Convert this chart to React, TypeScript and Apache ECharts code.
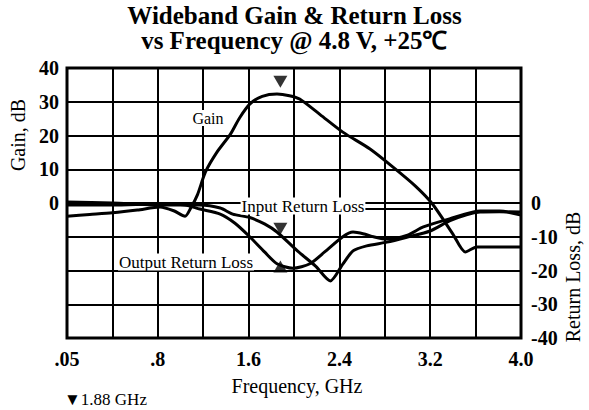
import React, { useEffect, useRef } from 'react';
import * as echarts from 'echarts';

// Frequency (GHz, axis position) / dB pairs
const gainData: [number, number][] = [
  [0, -3.9], [0.2, -3.4], [0.4, -2.9], [0.62, -2.1], [0.82, -1.2], [0.94, -2.3], [1.04, -3.9],
  [1.09, -1.5], [1.15, 2.5], [1.22, 9.2], [1.32, 15], [1.44, 20.4], [1.52, 25.2], [1.61, 29.3],
  [1.72, 31.6], [1.85, 32.3], [1.96, 31.8], [2.05, 30.8], [2.23, 26.2], [2.43, 21], [2.67, 16],
  [2.87, 10.7], [3.07, 5], [3.22, -0.3], [3.4, -9.2], [3.51, -14.5], [3.61, -13], [4.0, -13],
];

const inputRLData: [number, number][] = [
  [0, 0.3], [0.4, 0], [0.82, -0.6], [1.17, -0.6], [1.35, -1.5], [1.46, -3.3], [1.61, -4.3],
  [1.74, -6.2], [1.85, -8.6], [2.03, -14.2], [2.19, -18.7], [2.32, -23.1], [2.43, -18.1],
  [2.52, -14.2], [2.64, -12.7], [2.82, -11.6], [3.0, -10.1], [3.2, -8.3], [3.37, -5.3],
  [3.52, -3.5], [3.64, -2.7], [3.81, -2.6], [4.0, -2.7],
];

const outputRLData: [number, number][] = [
  [0, -0.6], [0.4, -0.6], [0.82, -0.3], [1.04, -0.6], [1.17, -1.8], [1.35, -3.3], [1.48, -6],
  [1.61, -10], [1.74, -14.5], [1.85, -18], [1.99, -19.3], [2.14, -18], [2.27, -14.5],
  [2.43, -10], [2.52, -8.6], [2.62, -9.2], [2.7, -10], [2.82, -10.7], [3.0, -9.5],
  [3.14, -7.1], [3.37, -4.7], [3.64, -2.4], [3.81, -2.4], [4.0, -3.6],
];

const markerDown: [number, number][] = [[1.88, 35.9], [1.88, -7.6]];
const markerUp: [number, number][] = [[1.88, -18.8]];

const xTickValues = [0, 0.8, 1.6, 2.4, 3.2, 4.0];
const xTickLabels = ['.05', '.8', '1.6', '2.4', '3.2', '4.0'];
const gainTicks = [0, 10, 20, 30, 40];
const rlTicks = [0, -10, -20, -30, -40];

const SERIF = '"Liberation Serif", "Times New Roman", serif';

export default function App() {
  const ref = useRef<HTMLDivElement>(null);
  useEffect(() => {
    document.body.style.margin = '0';
    const chart = echarts.init(ref.current!, undefined, { renderer: 'svg' });
    const lineStyle = { color: '#000', width: 3 };
    chart.setOption({
      animation: false,
      backgroundColor: '#fff',
      grid: { left: 67, right: 68, top: 68, bottom: 72, show: true, borderColor: '#000', borderWidth: 3, z: 3 },
      xAxis: {
        type: 'value', min: 0, max: 4, interval: 0.4,
        axisLine: { show: false }, axisTick: { show: false },
        splitLine: { show: true, lineStyle: { color: '#000', width: 2 } },
        axisLabel: {
          margin: 11, color: '#000', fontFamily: SERIF, fontWeight: 'bold', fontSize: 20,
          formatter: (v: number) => {
            const i = xTickValues.findIndex((t) => Math.abs(t - v) < 1e-6);
            return i >= 0 ? xTickLabels[i] : '';
          },
        },
      },
      yAxis: [
        {
          type: 'value', min: -40, max: 40, interval: 10,
          axisLine: { show: false }, axisTick: { show: false },
          splitLine: { show: true, lineStyle: { color: '#000', width: 2 } },
          axisLabel: {
            margin: 8, color: '#000', fontFamily: SERIF, fontWeight: 'bold', fontSize: 20,
            formatter: (v: number) => (gainTicks.includes(Math.round(v)) ? String(Math.round(v)) : ''),
          },
        },
        {
          type: 'value', min: -40, max: 40, interval: 10, position: 'right',
          axisLine: { show: false }, axisTick: { show: false }, splitLine: { show: false },
          axisLabel: {
            margin: 10, color: '#000', fontFamily: SERIF, fontWeight: 'bold', fontSize: 20,
            formatter: (v: number) => (rlTicks.includes(Math.round(v)) ? String(Math.round(v)) : ''),
          },
        },
      ],
      series: [
        { name: 'Gain', type: 'line', yAxisIndex: 0, data: gainData, showSymbol: false, smooth: 0.25, lineStyle, z: 4 },
        { name: 'Input Return Loss', type: 'line', yAxisIndex: 1, data: inputRLData, showSymbol: false, smooth: 0.25, lineStyle, z: 4 },
        { name: 'Output Return Loss', type: 'line', yAxisIndex: 1, data: outputRLData, showSymbol: false, smooth: 0.25, lineStyle, z: 4 },
        { type: 'scatter', yAxisIndex: 0, data: markerDown, symbol: 'triangle', symbolRotate: 180, symbolSize: [14, 12], itemStyle: { color: '#000' }, z: 6 },
        { type: 'scatter', yAxisIndex: 1, data: markerUp, symbol: 'triangle', symbolSize: [14, 12], itemStyle: { color: '#000' }, z: 6 },
      ],
      graphic: [
        { type: 'text', left: 'center', top: 3, style: { text: 'Wideband Gain & Return Loss', font: `bold 25px ${SERIF}`, fill: '#000' } },
        { type: 'text', left: 'center', top: 28, style: { text: 'vs Frequency @ 4.8 V, +25\u2103', font: `bold 25px ${SERIF}`, fill: '#000' } },
        { type: 'text', x: 18, y: 135, rotation: Math.PI / 2, style: { text: 'Gain, dB', font: `20px ${SERIF}`, fill: '#000', align: 'center', verticalAlign: 'middle' } },
        { type: 'text', x: 573, y: 277, rotation: Math.PI / 2, style: { text: 'Return Loss, dB', font: `20px ${SERIF}`, fill: '#000', align: 'center', verticalAlign: 'middle' } },
        { type: 'text', x: 297, y: 386, style: { text: 'Frequency, GHz', font: `20px ${SERIF}`, fill: '#000', align: 'center', verticalAlign: 'middle' } },
        { type: 'text', x: 64, y: 399, style: { text: '\u25BC1.88 GHz', font: `17px ${SERIF}`, fill: '#000', align: 'left', verticalAlign: 'middle' } },
        { type: 'line', z: 5, shape: { x1: 360, y1: 209, x2: 433, y2: 209 }, style: { stroke: '#000', lineWidth: 2.2 } },
        { type: 'text', z: 5, x: 208, y: 118, style: { text: 'Gain', font: `16px ${SERIF}`, fill: '#000', align: 'center', verticalAlign: 'middle', backgroundColor: '#fff' } },
        { type: 'text', z: 5, x: 303, y: 206, style: { text: 'Input Return Loss', font: `17px ${SERIF}`, fill: '#000', align: 'center', verticalAlign: 'middle', backgroundColor: '#fff', padding: [0, 1] } },
        { type: 'text', z: 5, x: 186, y: 262, style: { text: 'Output Return Loss', font: `17px ${SERIF}`, fill: '#000', align: 'center', verticalAlign: 'middle', backgroundColor: '#fff', padding: [0, 1] } },
      ],
    });
    return () => chart.dispose();
  }, []);
  return <div ref={ref} style={{ width: 589, height: 410 }} />;
}
